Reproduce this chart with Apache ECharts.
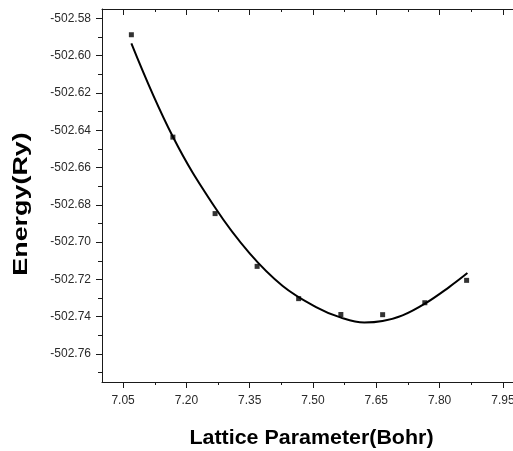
<!DOCTYPE html>
<html><head><meta charset="utf-8">
<script src="https://cdn.jsdelivr.net/npm/echarts@6/dist/echarts.min.js"></script>
<style>html,body{margin:0;padding:0;background:#fff}#c{width:513px;height:451px}</style>
</head><body><div id="c"></div>
<script>
// Measured data points (lattice parameter in Bohr, energy in Ry)
const pointX = [7.0696, 7.168, 7.268, 7.3676, 7.466, 7.566, 7.665, 7.765, 7.864];
const pointY = [-502.5888, -502.6437, -502.6847, -502.7130, -502.7303, -502.7388, -502.7389, -502.7325, -502.7205];
// Fitted curve
const fitX = [7.0696, 7.1680, 7.2683, 7.3494, 7.4282, 7.5072, 7.5664, 7.6215, 7.6648, 7.7121, 7.7651, 7.8226, 7.8659];
const fitY = [-502.5934, -502.6435, -502.6816, -502.7059, -502.7235, -502.7348, -502.7405, -502.7431, -502.7423, -502.7393, -502.7330, -502.7241, -502.7166];
// Ticks
const xMajorTicks = [7.05, 7.20, 7.35, 7.50, 7.65, 7.80, 7.95];
const xMinorTicks = [7.125, 7.275, 7.425, 7.575, 7.725, 7.875];
const yMajorTicks = [-502.58, -502.60, -502.62, -502.64, -502.66, -502.68, -502.70, -502.72, -502.74, -502.76];
const yMinorTicks = [-502.59, -502.61, -502.63, -502.65, -502.67, -502.69, -502.71, -502.73, -502.75, -502.77];
const xTitle = 'Lattice Parameter(Bohr)';
const yTitle = 'Energy(Ry)';
const X_MIN = 7.0, X_MAX = 8.0, Y_MIN = -502.775, Y_MAX = -502.575;

const FONT = '"Liberation Sans", Arial, Helvetica, sans-serif';
const AX = '#1a1a1a';
const chart = echarts.init(document.getElementById('c'), null, {renderer: 'canvas'});
const gridBox = {left: 102, right: -11, top: 9, bottom: 69, outerBoundsMode: 'none', containLabel: false};
function xAx(grid, pos, ticks, len, inside, showLine, showLabel) {
  return {
    gridIndex: grid, type: 'value', position: pos, min: X_MIN, max: X_MAX,
    axisLine: {show: showLine, onZero: false, lineStyle: {color: AX, width: 1}},
    axisTick: {show: true, inside: inside, length: len, customValues: ticks, lineStyle: {color: AX, width: 1}},
    axisLabel: showLabel ? {show: true, customValues: ticks, formatter: v => Number(v).toFixed(2), fontSize: 12, color: '#2a2a2a', margin: 13, fontFamily: FONT} : {show: false},
    splitLine: {show: false}
  };
}
function yAx(grid, ticks, len, showLine, showLabel) {
  return {
    gridIndex: grid, type: 'value', position: 'left', min: Y_MIN, max: Y_MAX,
    axisLine: {show: showLine, onZero: false, lineStyle: {color: AX, width: 1}},
    axisTick: {show: true, inside: false, length: len, customValues: ticks, lineStyle: {color: AX, width: 1}},
    axisLabel: showLabel ? {show: true, customValues: ticks, formatter: v => Number(v).toFixed(2), fontSize: 12, color: '#2a2a2a', margin: 11, fontFamily: FONT} : {show: false},
    splitLine: {show: false}
  };
}
chart.setOption({
  animation: false,
  backgroundColor: '#fff',
  grid: [Object.assign({}, gridBox), Object.assign({}, gridBox)],
  xAxis: [
    xAx(0, 'bottom', xMajorTicks, 6, false, true, true),
    xAx(0, 'top', xMajorTicks, 6, true, true, false),
    xAx(1, 'bottom', xMinorTicks, 3, false, false, false),
    xAx(1, 'top', xMinorTicks, 3, true, false, false)
  ],
  yAxis: [
    yAx(0, yMajorTicks, 6, true, true),
    yAx(1, yMinorTicks, 4, false, false)
  ],
  series: [
    {type: 'line', xAxisIndex: 0, yAxisIndex: 0, data: fitX.map((x, i) => [x, fitY[i]]),
     smooth: 0.4, showSymbol: false, lineStyle: {color: '#000', width: 2}, z: 2},
    {type: 'scatter', xAxisIndex: 0, yAxisIndex: 0, data: pointX.map((x, i) => [x, pointY[i]]),
     symbol: 'rect', symbolSize: 5, itemStyle: {color: '#000'}, z: 3}
  ],
  graphic: [
    {type: 'text', x: 311.5, y: 438, scaleX: 1.02,
     style: {text: xTitle, font: 'bold 21px ' + FONT, fill: '#000', textAlign: 'center', textVerticalAlign: 'middle', align: 'center', verticalAlign: 'middle'}},
    {type: 'text', x: 21, y: 204, rotation: Math.PI / 2, scaleX: 1.28,
     style: {text: yTitle, font: 'bold 21px ' + FONT, fill: '#000', textAlign: 'center', textVerticalAlign: 'middle', align: 'center', verticalAlign: 'middle'}}
  ]
});
</script></body></html>
